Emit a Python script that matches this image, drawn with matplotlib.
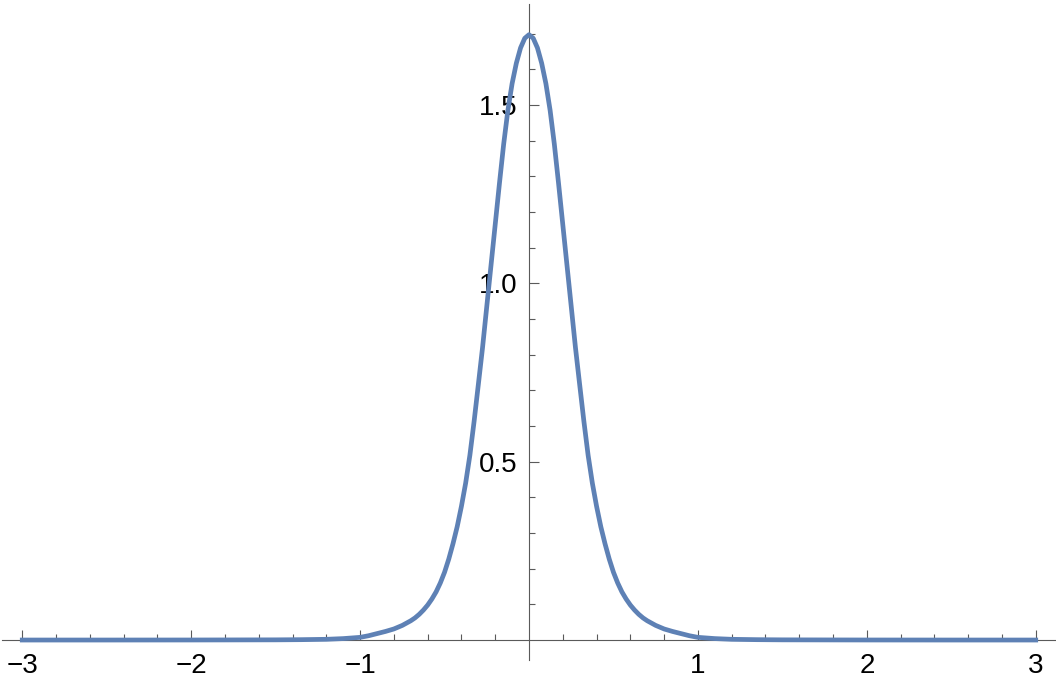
import numpy as np
import matplotlib
matplotlib.use("Agg")
import matplotlib.pyplot as plt

# right half of the (symmetric) peak
x_half = [0.0, 0.025, 0.05, 0.075, 0.10, 0.125, 0.15, 0.175, 0.20, 0.225, 0.25,
          0.275, 0.30, 0.325, 0.35, 0.375, 0.40, 0.425, 0.45, 0.475, 0.50, 0.525,
          0.55, 0.575, 0.60, 0.625, 0.65, 0.675, 0.70, 0.75, 0.80, 0.85, 0.90,
          0.95, 1.00, 1.10, 1.20, 1.35, 1.50, 2.00, 2.50, 3.00]
y_half = [1.697, 1.687, 1.66, 1.617, 1.56, 1.485, 1.39, 1.28, 1.165, 1.05, 0.935,
          0.82, 0.716, 0.613, 0.518, 0.44, 0.375, 0.318, 0.27, 0.227, 0.19, 0.16,
          0.135, 0.115, 0.098, 0.084, 0.072, 0.062, 0.054, 0.041, 0.031, 0.024, 0.018,
          0.012, 0.0075, 0.004, 0.002, 0.001, 0.0005, 0.0001, 0.0, 0.0]

x_vals = np.concatenate([-np.array(x_half[::-1]), np.array(x_half[1:])])
y_vals = np.concatenate([np.array(y_half[::-1]), np.array(y_half[1:])])

x_major = [-3, -2, -1, 1, 2, 3]
x_labels = ['\u22123', '\u22122', '\u22121', '1', '2', '3']
y_major = [0.5, 1.0, 1.5]
y_labels = ['0.5', '1.0', '1.5']

plt.rcParams['font.family'] = ['Liberation Sans', 'DejaVu Sans']

fig = plt.figure(figsize=(10.56, 6.81), dpi=100)
ax = fig.add_axes([2 / 1056, 21 / 681, 1054 / 1056, 656 / 681])

ax.plot(x_vals, y_vals, color='#5E81B5', lw=3.4, zorder=3,
        solid_joinstyle='round')

ax.set_xlim(-3.12, 3.12)
ax.set_ylim(-0.056, 1.783)

axis_col = '#5a5a5a'
for s in ['top', 'right']:
    ax.spines[s].set_visible(False)
ax.spines['left'].set_position(('data', 0))
ax.spines['bottom'].set_position(('data', 0))
for s in ['left', 'bottom']:
    ax.spines[s].set_color(axis_col)
    ax.spines[s].set_linewidth(0.8)

ax.set_xticks(x_major)
ax.set_xticklabels(x_labels)
ax.set_xticks([v / 5 for v in range(-15, 16) if v % 5 != 0], minor=True)
ax.set_yticks(y_major)
ax.set_yticklabels(y_labels)
ax.set_yticks([v / 10 for v in range(1, 18) if v % 5 != 0], minor=True)

ax.tick_params(which='both', direction='in', color=axis_col, width=0.8,
               labelsize=20, labelcolor='black')
ax.tick_params(which='major', length=7.2)
ax.tick_params(which='minor', length=4.3)
ax.tick_params(axis='x', pad=9)
ax.tick_params(axis='y', pad=8.5)

fig.savefig('out.png', dpi=100)
